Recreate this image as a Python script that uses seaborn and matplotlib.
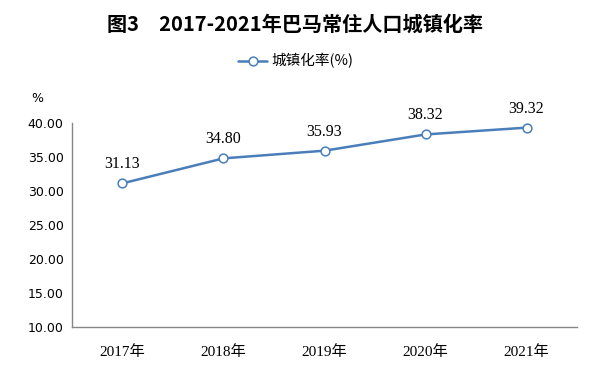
import numpy as np
import pandas as pd
import seaborn as sns
import matplotlib.pyplot as plt
from matplotlib.ticker import FixedLocator

years = ['2017年', '2018年', '2019年', '2020年', '2021年']
rate = [31.13, 34.80, 35.93, 38.32, 39.32]
yticks = [10, 15, 20, 25, 30, 35, 40]

sns.set_style('white')
plt.rcParams['font.family'] = ['Noto Sans CJK SC', 'DejaVu Sans']
plt.rcParams['text.color'] = 'black'
plt.rcParams['xtick.color'] = 'black'
plt.rcParams['ytick.color'] = 'black'

df = pd.DataFrame({'pos': np.arange(len(years)), 'rate': rate})

fig = plt.figure(figsize=(5.92, 3.66), dpi=100)
ax = fig.add_axes([0.1216, 0.1066, 0.8531, 0.5573])

line_color = '#4A7EBB'
sns.lineplot(data=df, x='pos', y='rate', ax=ax, color=line_color, linewidth=1.8,
             marker='o', markersize=6.3, markerfacecolor='white',
             markeredgecolor=line_color, markeredgewidth=1.1, label='城镇化率(%)')

# 数据标签
for x, y in zip(df['pos'], df['rate']):
    ax.annotate(f'{y:.2f}', (x, y), xytext=(0, 8), textcoords='offset points',
                ha='center', va='bottom', fontsize=11.5,
                family=['Liberation Serif', 'DejaVu Serif'])

ax.set_xlim(-0.5, len(years) - 0.5)
ax.set_ylim(10, 40)
ax.set_yticks(yticks)
ax.set_yticklabels([f'{v:.2f}' for v in yticks], fontsize=9, family=['DejaVu Sans'])
ax.set_xticks(df['pos'])
ax.set_xticklabels(years, fontsize=11,
                   family=['Liberation Serif', 'Noto Sans CJK SC'])
ax.xaxis.set_minor_locator(FixedLocator(np.arange(0.5, len(years), 1.0)))
ax.tick_params(axis='x', which='major', length=0, pad=13)
ax.tick_params(axis='x', which='minor', length=4, direction='in', color='#868686')
ax.tick_params(axis='y', length=4, direction='in', color='#868686', pad=6)
ax.set_xlabel('')
ax.set_ylabel('')

for side in ['top', 'right']:
    ax.spines[side].set_visible(False)
for side in ['left', 'bottom']:
    ax.spines[side].set_color('#868686')
    ax.spines[side].set_linewidth(1)

ax.legend(loc='center', bbox_to_anchor=(296 / 592, 1 - 61 / 366),
          bbox_transform=fig.transFigure, frameon=False, fontsize=10.5,
          handlelength=2.0, handletextpad=0.3)

fig.text(37 / 592, 1 - 98 / 366, '%', ha='center', va='center', fontsize=9,
         family=['DejaVu Sans'])
fig.text(295 / 592, 1 - 24 / 366, '图3\u30002017-2021年巴马常住人口城镇化率',
         ha='center', va='center', fontsize=14.5, fontweight='bold')

fig.savefig('out.png', dpi=100)
